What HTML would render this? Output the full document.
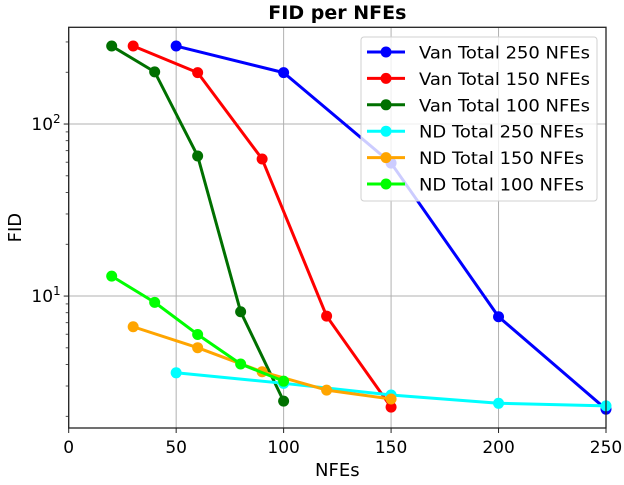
<!DOCTYPE html>
<html><head><meta charset="utf-8"><style>
body{margin:0;background:#fff}
svg{font-family:"DejaVu Sans","Liberation Sans",sans-serif}
</style></head><body>
<svg id="chart" width="624" height="480" xmlns="http://www.w3.org/2000/svg"></svg>
<script>
const xTicks=[0,50,100,150,200,250];
const seriesNames=["Van Total 250 NFEs","Van Total 150 NFEs","Van Total 100 NFEs","ND Total 250 NFEs","ND Total 150 NFEs","ND Total 100 NFEs"];
const seriesColors=["#0000ff","#ff0000","#007000","#00ffff","#ffa500","#00ff00"];
const van250X=[50,100,150,200,250];
const van250Y=[284,199,59.3,7.58,2.2];
const van150X=[30,60,90,120,150];
const van150Y=[284,199,62.6,7.65,2.26];
const van100X=[20,40,60,80,100];
const van100Y=[284,201,65.2,8.11,2.45];
const nd250X=[50,100,150,200,250];
const nd250Y=[3.58,3.11,2.66,2.38,2.3];
const nd150X=[30,60,90,120,150];
const nd150Y=[6.63,5.01,3.63,2.84,2.52];
const nd100X=[20,40,60,80,100];
const nd100Y=[13.06,9.19,5.98,4.03,3.2];
const seriesXs=[van250X,van150X,van100X,nd250X,nd150X,nd100X];
const seriesYs=[van250Y,van150Y,van100Y,nd250Y,nd150Y,nd100Y];

const L=68.7,R=606,T=27.3,B=428,yMin=1.71,yMax=365;
const sx=v=>L+(v-0)/(250-0)*(R-L);
const sy=v=>B-(Math.log10(v)-Math.log10(yMin))/(Math.log10(yMax)-Math.log10(yMin))*(B-T);
const svg=document.getElementById('chart');
const NS='http://www.w3.org/2000/svg';
function mk(tag,attrs,parent){const e=document.createElementNS(NS,tag);for(const k in attrs)e.setAttribute(k,attrs[k]);(parent||svg).appendChild(e);return e;}

xTicks.forEach(t=>{
  const g=mk('line',{x1:sx(t),x2:sx(t),y1:T,y2:B,stroke:'#b0b0b0','stroke-width':1});
  
  
});
[10,100].forEach(t=>{
  const g=mk('line',{x1:L,x2:R,y1:sy(t),y2:sy(t),stroke:'#b0b0b0','stroke-width':1});
  
  
});

seriesNames.forEach((n,i)=>{
  const g=mk('g',{});
  
  
  const pts=seriesXs[i].map((x,j)=>sx(x)+','+sy(seriesYs[i][j])).join(' ');
  mk('polyline',{points:pts,fill:'none',stroke:seriesColors[i],'stroke-width':3,'stroke-linejoin':'round'},g);
  seriesXs[i].forEach((x,j)=>{
    const c=mk('circle',{cx:sx(x),cy:sy(seriesYs[i][j]),r:5.5,fill:seriesColors[i]},g);
    
    
  });
});

const fr=mk('rect',{x:L,y:T,width:R-L,height:B-T,fill:'none',stroke:'#222','stroke-width':1.3});



xTicks.forEach(t=>{
  mk('line',{x1:sx(t),x2:sx(t),y1:B,y2:B+5,stroke:'#222','stroke-width':1});
  const tx=mk('text',{x:sx(t),y:B+25,'text-anchor':'middle','font-size':17});
  tx.textContent=t;
  
  
});
for(let d=1;d<=100;d*=10){for(let m=1;m<10;m++){const v=m*d;if(v<yMin||v>yMax)continue;
  const major=m===1;
  mk('line',{x1:L,x2:L-(major?5:3),y1:sy(v),y2:sy(v),stroke:'#222','stroke-width':major?1:0.8});
  if(major){
    const tx=mk('text',{x:L-8,y:sy(v)+6,'text-anchor':'end','font-size':17});
    
    
    tx.textContent='10';
    const sp=mk('tspan',{dy:-7,'font-size':12},tx);sp.textContent=String(Math.log10(v));
  }
}}

const title=mk('text',{x:(L+R)/2,y:19,'text-anchor':'middle','font-size':19,'font-weight':'bold'});
title.textContent='FID per NFEs';


const xl=mk('text',{x:(L+R)/2,y:476,'text-anchor':'middle','font-size':18});
xl.textContent='NFEs';


const yl=mk('text',{x:21,y:(T+B)/2,'text-anchor':'middle','font-size':18,transform:'rotate(-90 21 '+((T+B)/2)+')'});
yl.textContent='FID';



const lg=mk('g',{});


mk('rect',{x:361,y:37,width:236,height:164,rx:3,fill:'#fff','fill-opacity':0.8,stroke:'#d0d0d0','stroke-width':1},lg);
seriesNames.forEach((n,i)=>{
  const y=52+i*26.4;
  const e=mk('g',{},lg);
  
  
  mk('line',{x1:367,x2:405,y1:y,y2:y,stroke:seriesColors[i],'stroke-width':3},e);
  mk('circle',{cx:386,cy:y,r:5.5,fill:seriesColors[i]},e);
  const t=mk('text',{x:419,y:y+6.5,'font-size':17,textLength:171,lengthAdjust:'spacingAndGlyphs'},e);t.textContent=n;
  if(i>=3)t.setAttribute('textLength',165);
});
</script>
</body></html>
